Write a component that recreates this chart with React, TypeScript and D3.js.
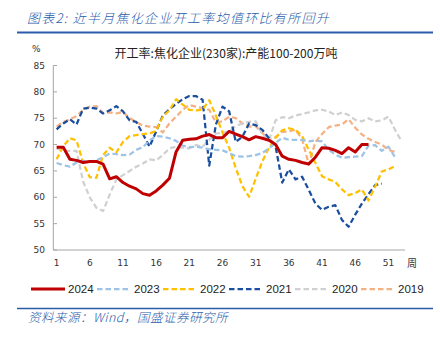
import React from "react";
import * as d3 from "d3";

const weekTicks = [1, 6, 11, 16, 21, 26, 31, 36, 41, 46, 51];
const yTicks = [50, 55, 60, 65, 70, 75, 80, 85];

const s2024 = [69.5, 69.5, 67.2, 67.0, 66.6, 66.8, 66.8, 66.3, 63.5, 63.9,
  62.8, 62.1, 61.6, 60.7, 60.4, 61.2, 62.3, 63.6, 68.6, 70.8,
  71.0, 71.1, 71.6, 71.9, 71.3, 71.3, 72.5, 72.0, 71.5, 70.9,
  71.5, 71.2, 70.8, 70.0, 67.8, 67.2, 67.0, 66.6, 66.3, 67.6,
  69.4, 69.3, 68.9, 68.3, 69.4, 68.6, 70.0, 70.0];
const s2023 = [66.5, 66.1, 65.8, 66.6, 66.9, 66.8, 67.0, 67.6, 68.3, 68.2,
  68.0, 68.1, 69.0, 69.5, 70.8, 71.6, 71.5, 71.2, 70.7, 69.8,
  69.5, 69.6, 69.4, 69.1, 69.0, 68.9, 68.4, 67.8, 67.7, 67.8,
  68.0, 68.4, 69.3, 70.3, 71.3, 70.9, 70.9, 70.9, 70.6, 70.8,
  70.6, 69.0, 68.1, 67.5, 67.6, 67.7, 67.8, 69.8, 69.9, 68.8, 69.6, 67.6];
const s2022 = [67.2, 69.7, 71.2, 70.8, 66.5, 63.8, 63.7, 68.0, 69.4, 68.5,
  70.5, 71.6, 71.8, 72.0, 72.1, 72.6, 75.3, 76.5, 78.6, 77.6,
  76.6, 76.5, 76.6, 78.4, 75.5, 72.3, 69.4, 65.5, 62.1, 60.1,
  63.5, 66.8, 69.4, 71.3, 72.7, 73.1, 72.8, 71.6, 69.0, 66.5,
  64.0, 63.4, 62.9, 61.5, 60.4, 60.8, 61.5, 59.4, 62.0, 64.9, 65.3, 65.9];
const s2021 = [72.9, 74.0, 74.8, 73.8, 76.8, 77.0, 76.8, 75.9, 76.5, 77.3,
  76.3, 74.6, 74.3, 72.0, 69.6, 72.5, 75.5, 76.7, 77.7, 78.6,
  79.2, 79.2, 78.5, 66.0, 73.8, 77.2, 76.3, 70.5, 71.5, 74.0,
  73.7, 72.8, 71.2, 69.6, 62.8, 65.3, 63.4, 63.9, 61.4, 58.8,
  57.6, 58.2, 58.5, 55.7, 54.4, 56.7, 58.8, 60.6, 62.3, 62.6];
const s2020 = [69.2, 68.8, 68.8, 68.8, 63.0, 60.0, 58.0, 57.4, 60.5, 63.4,
  64.2, 65.0, 65.8, 66.4, 67.2, 67.0, 68.0, 69.3, 69.6, 69.4,
  69.3, 69.9, 69.6, 70.9, 72.1, 72.2, 72.5, 73.5, 74.0, 74.3,
  74.4, 72.0, 70.8, 74.6, 75.2, 75.0, 75.5, 75.8, 76.1, 76.5,
  76.6, 76.3, 75.6, 76.1, 75.6, 74.7, 74.4, 75.0, 74.4, 74.6, 75.3, 72.8, 70.6];
const s2019 = [73.4, 74.3, 74.8, 75.4, 76.6, 77.2, 77.3, 76.0, 76.1, 75.9,
  76.2, 75.0, 74.3, 73.6, 73.4, 73.3, 72.3, 74.0, 75.3, 76.6,
  77.5, 77.2, 76.9, 76.6, 74.2, 74.4, 75.3, 75.0, 74.0, 73.4,
  73.5, 72.2, 71.0, 71.4, 72.4, 72.5, 72.8, 71.0, 66.2, 70.5,
  72.0, 73.3, 73.6, 73.8, 74.8, 73.2, 71.9, 71.1, 70.5, 70.0, 69.0, 68.6];

const seriesNames = ["2024", "2023", "2022", "2021", "2020", "2019"];
const seriesData = [s2024, s2023, s2022, s2021, s2020, s2019];
const seriesColors = ["#c00000", "#9dc3e6", "#ffc000", "#1a4f9f", "#d0d0d0", "#f4b183"];

const TITLE_BLUE = "#2a5caa";
const CJK = "'Noto Sans CJK SC', 'Noto Sans', sans-serif";

export default function App() {
  const W = 440, H = 341;
  const x = d3.scaleLinear().domain([0.5, 53.5]).range([53.3, 405]);
  const y = d3.scaleLinear().domain([50, 85]).range([250, 65.5]);
  const line = d3.line<number>().x((_, i) => x(i + 1)).y((d) => y(d));

  const order = [5, 4, 3, 2, 1, 0];

  return (
    <svg width={W} height={H} style={{ position: "absolute", left: 0, top: 0, background: "#fff" }}>
      <text x={27} y={23} fill={TITLE_BLUE} fontFamily={CJK} fontSize={13} fontStyle="italic" fontWeight={300} letterSpacing={1.3}>
        图表2:  近半月焦化企业开工率均值环比有所回升
      </text>
      <line x1={17} x2={433} y1={32.5} y2={32.5} stroke={TITLE_BLUE} strokeWidth={2} />

      <text x={32} y={52} fontFamily="'DejaVu Sans', sans-serif" fontSize={9} fill="#333">%</text>
      <text x={226} y={58} textAnchor="middle" fontFamily={CJK} fontSize={12} fill="#222">
        开工率:焦化企业(230家):产能100-200万吨
      </text>

      {/* axes */}
      <line x1={53.3} x2={53.3} y1={65.5} y2={250} stroke="#a6a6a6" strokeWidth={1} />
      <line x1={53.3} x2={405} y1={250} y2={250} stroke="#a6a6a6" strokeWidth={1} />
      {yTicks.map((t) => (
        <g key={t}>
          <line x1={53.3} x2={57} y1={y(t)} y2={y(t)} stroke="#a6a6a6" />
          <text x={45} y={y(t)} dy="0.35em" textAnchor="end" fontFamily="'DejaVu Sans', sans-serif" fontSize={9} fill="#333">
            {t}
          </text>
        </g>
      ))}
      {weekTicks.map((t) => (
        <text key={t} x={x(t)} y={263} dy="0.35em" textAnchor="middle" fontFamily="'DejaVu Sans', sans-serif" fontSize={9} fill="#333">
          {t}
        </text>
      ))}
      <text x={412} y={263} dy="0.35em" textAnchor="middle" fontFamily={CJK} fontSize={10} fill="#333">周</text>

      {order.map((i) => (
        <path
          key={seriesNames[i]}
          d={line(seriesData[i]) || ""}
          fill="none"
          stroke={seriesColors[i]}
          strokeWidth={i === 0 ? 3 : 2.25}
          strokeDasharray={i === 0 ? undefined : "5.5,3"}
          strokeLinejoin="round"
        />
      ))}

      {/* legend */}
      {seriesNames.map((n, i) => {
        const lx = 31 + i * 66;
        return (
          <g key={n}>
            <line x1={lx} x2={lx + 34} y1={289} y2={289} stroke={seriesColors[i]}
              strokeWidth={i === 0 ? 3 : 2.25} strokeDasharray={i === 0 ? undefined : "5.5,3"} />
            <text x={lx + 37} y={289} dy="0.35em" fontFamily="'Liberation Sans', sans-serif" fontSize={11.5} fill="#222">{n}</text>
          </g>
        );
      })}

      <line x1={17} x2={433} y1={308.5} y2={308.5} stroke={TITLE_BLUE} strokeWidth={1.5} />
      <text x={28} y={322} fill={TITLE_BLUE} fontFamily={CJK} fontSize={12.5} fontStyle="italic" fontWeight={300} letterSpacing={0.5}>
        资料来源：Wind，国盛证券研究所
      </text>
    </svg>
  );
}
